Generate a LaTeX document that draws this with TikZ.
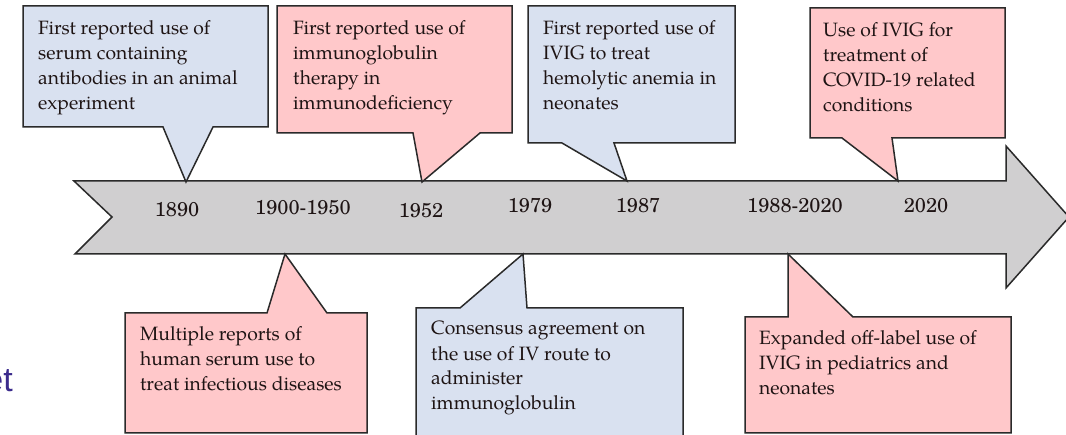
\documentclass[tikz,border=0pt]{standalone}
\usepackage{fontspec}
\setmainfont{TeX Gyre Pagella}
\newfontfamily\datefont{TeX Gyre Schola}
\newfontfamily\fragfont{Liberation Sans}
\definecolor{bluefill}{HTML}{D9E1F0}
\definecolor{pinkfill}{HTML}{FFC8CA}
\definecolor{arrowfill}{HTML}{D0CFD0}
\definecolor{edge}{HTML}{2A2A2A}
\definecolor{txt}{HTML}{1E1414}
\definecolor{frag}{HTML}{3B2B8C}
\tikzset{
  calloutblue/.style={draw=edge, fill=bluefill, line width=1.5pt, line join=miter},
  calloutpink/.style={draw=edge, fill=pinkfill, line width=1.5pt, line join=miter},
  timearrow/.style={draw=edge, fill=arrowfill, line width=1.5pt, line join=miter},
  ctext/.style={anchor=base west, inner sep=0pt, align=left, text=txt, font=\fontsize{19.3}{25}\selectfont},
  datetext/.style={anchor=base, inner sep=0pt, text=txt, font=\datefont\fontsize{20}{24}\selectfont}
}
\begin{document}
\begin{tikzpicture}[x=1pt,y=-1pt]
\useasboundingbox (0,0) rectangle (1066,435);
\clip (0,0) rectangle (1066,435);
\fill[white] (0,0) rectangle (1066,435);
% time arrow
\draw[timearrow] (74,181) -- (1006,181) -- (1006,146) -- (1069,217) -- (1006,288) -- (1006,254) -- (75,254) -- (112,217) -- cycle;
% dates
\node[datetext] (d1890) at (177,217) {1890};
\node[datetext] (d1900) at (303,215) {1900-1950};
\node[datetext] (d1952) at (421,218) {1952};
\node[datetext] (d1979) at (530,213) {1979};
\node[datetext] (d1987) at (638,213) {1987};
\node[datetext] (d1988) at (795,213) {1988-2020};
\node[datetext] (d2020) at (926,213) {2020};
% top callouts (text nodes anchored at the baseline of their last line)
\draw[calloutblue] (23,6) -- (268,6) -- (268,127) -- (213,127) -- (186,182) -- (163,127) -- (23,127) -- cycle;
\node[ctext] (t1) at (38,110) {First reported use of\\serum containing\\antibodies in an animal\\experiment};
\draw[calloutpink] (277,6) -- (512,6) -- (512,133) -- (480,133) -- (422,182) -- (413,133) -- (277,133) -- cycle;
\node[ctext] (t2) at (293,110) {First reported use of\\immunoglobulin\\therapy in\\immunodeficiency};
\draw[calloutblue] (528,6) -- (735,6) -- (735,143) -- (614,143) -- (627,181) -- (562,143) -- (528,143) -- cycle;
\node[ctext] (t3) at (543,110) {First reported use of\\IVIG to treat\\hemolytic anemia in\\neonates};
\draw[calloutpink] (810,8) -- (1005,8) -- (1005,138) -- (892,138) -- (898,181) -- (842,138) -- (810,138) -- cycle;
\node[ctext] (t4) at (823,112) {Use of IVIG for\\treatment of\\COVID-19 related\\conditions};
% bottom callouts
\draw[calloutpink] (125,313) -- (267,313) -- (285,254) -- (327,313) -- (367,313) -- (367,433) -- (125,433) -- cycle;
\node[ctext] (t5) at (140,391) {Multiple reports of\\human serum use to\\treat infectious diseases};
\draw[calloutblue] (416,308) -- (460,308) -- (523,254) -- (527,308) -- (683,308) -- (683,445) -- (416,445) -- cycle;
\node[ctext] (t6) at (431,410) {Consensus agreement on\\the use of IV route to\\administer\\immunoglobulin};
\draw[calloutpink] (745,317) -- (788,317) -- (788,254) -- (853,317) -- (1011,317) -- (1011,433) -- (745,433) -- cycle;
\node[ctext] (t7) at (759,395) {Expanded off-label use of\\IVIG in pediatrics and\\neonates};
% fragment of text at left edge (cut off in the reference too)
\node[anchor=base east, inner sep=0pt, text=frag, font=\fragfont\fontsize{34}{40}\selectfont] (frag) at (13,392) {et};
\end{tikzpicture}
\end{document}
